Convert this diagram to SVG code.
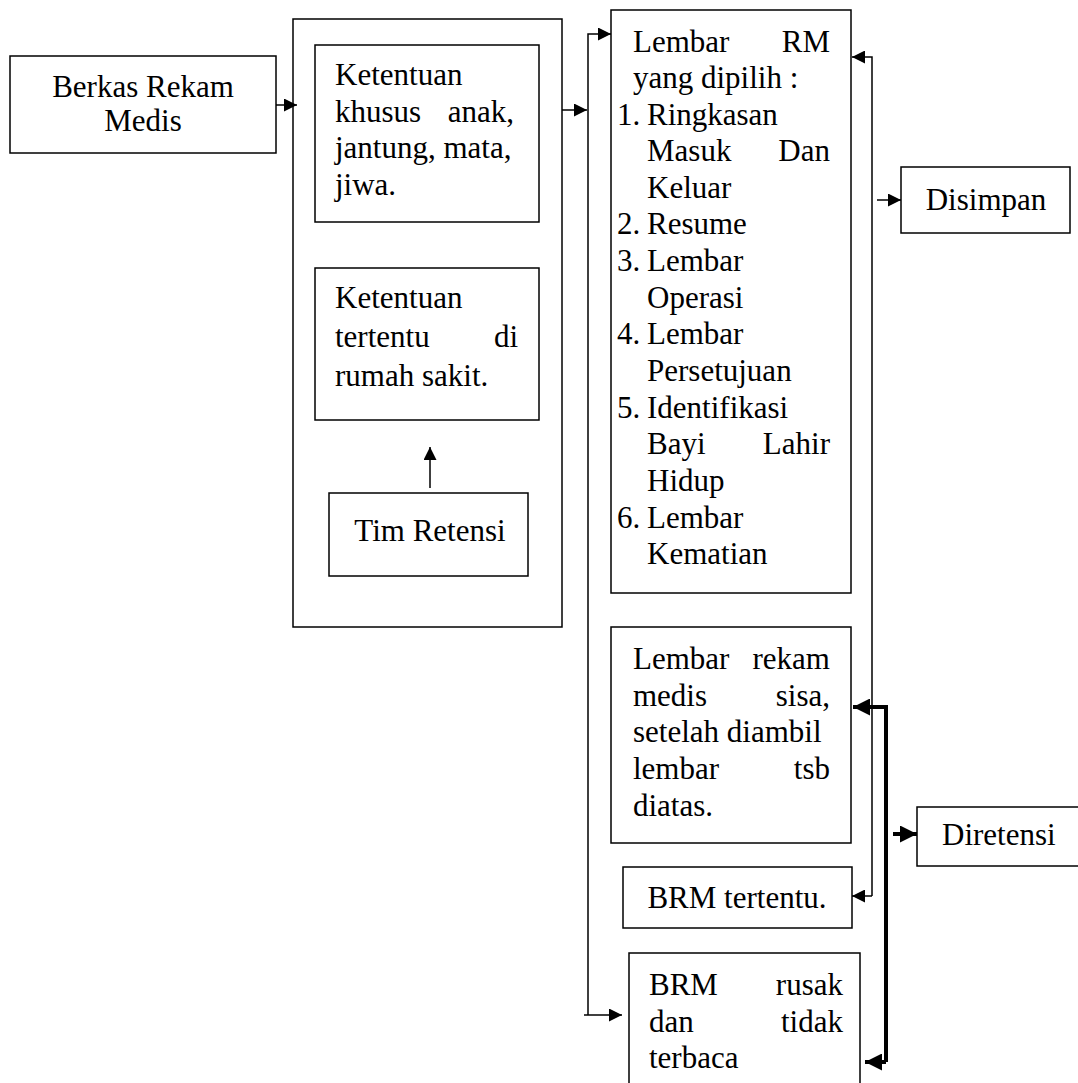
<svg xmlns="http://www.w3.org/2000/svg" width="1078" height="1083" viewBox="0 0 1078 1083">
<style>
.box{fill:#fff;stroke:#000;stroke-width:1.5}
.t{font-family:"Liberation Serif","Times New Roman",serif;font-size:31px;fill:#000}
.e{text-anchor:end}
.m{text-anchor:middle}
.ln{fill:none;stroke:#000;stroke-width:1.5}
.th{fill:none;stroke:#000;stroke-width:4}
</style>
<defs>
<marker id="a" viewBox="0 0 10 10" refX="10" refY="5" markerUnits="userSpaceOnUse" markerWidth="13" markerHeight="13" orient="auto"><path d="M0 0L10 5L0 10Z" fill="#000"/></marker>
<marker id="b" viewBox="0 0 10 10" refX="10" refY="5" markerUnits="userSpaceOnUse" markerWidth="19" markerHeight="17" orient="auto"><path d="M0 0L10 5L0 10Z" fill="#000"/></marker>
</defs>
<rect width="1078" height="1083" fill="#fff"/>
<g id="n-berkas"><rect class="box" x="10" y="56" width="266" height="97"/><text class="t m" x="143" y="97">Berkas Rekam</text><text class="t m" x="143" y="131">Medis</text></g>
<g id="n-container"><rect class="box" x="293" y="19" width="269" height="608"/></g>
<g id="n-khusus"><rect class="box" x="315" y="45" width="224" height="177"/><text class="t" x="335" y="85">Ketentuan</text><text class="t" x="335" y="122">khusus</text><text class="t e" x="514" y="122">anak,</text><text class="t" x="335" y="158">jantung, mata,</text><text class="t" x="335" y="195">jiwa.</text></g>
<g id="n-tertentu"><rect class="box" x="315" y="268" width="224" height="152"/><text class="t" x="335" y="308">Ketentuan</text><text class="t" x="335" y="347">tertentu</text><text class="t e" x="518" y="347">di</text><text class="t" x="335" y="386">rumah sakit.</text></g>
<g id="n-tim"><rect class="box" x="329" y="493" width="199" height="83"/><text class="t m" x="430" y="541">Tim Retensi</text></g>
<g id="n-lembar"><rect class="box" x="611" y="10" width="240" height="583"/>
<text class="t" x="633" y="52">Lembar</text><text class="t e" x="830" y="52">RM</text>
<text class="t" x="633" y="88">yang dipilih :</text>
<text class="t" x="617" y="125">1.</text><text class="t" x="647" y="125">Ringkasan</text>
<text class="t" x="647" y="161">Masuk</text><text class="t e" x="830" y="161">Dan</text>
<text class="t" x="647" y="198">Keluar</text>
<text class="t" x="617" y="234">2.</text><text class="t" x="647" y="234">Resume</text>
<text class="t" x="617" y="271">3.</text><text class="t" x="647" y="271">Lembar</text>
<text class="t" x="647" y="308">Operasi</text>
<text class="t" x="617" y="344">4.</text><text class="t" x="647" y="344">Lembar</text>
<text class="t" x="647" y="381">Persetujuan</text>
<text class="t" x="617" y="418">5.</text><text class="t" x="647" y="418">Identifikasi</text>
<text class="t" x="647" y="454">Bayi</text><text class="t e" x="830" y="454">Lahir</text>
<text class="t" x="647" y="491">Hidup</text>
<text class="t" x="617" y="528">6.</text><text class="t" x="647" y="528">Lembar</text>
<text class="t" x="647" y="564">Kematian</text></g>
<g id="n-disimpan"><rect class="box" x="901" y="167" width="169" height="66"/><text class="t m" x="986" y="210">Disimpan</text></g>
<g id="n-sisa"><rect class="box" x="611" y="627" width="240" height="216"/>
<text class="t" x="633" y="669">Lembar</text><text class="t e" x="830" y="669">rekam</text>
<text class="t" x="633" y="706">medis</text><text class="t e" x="830" y="706">sisa,</text>
<text class="t" x="633" y="742">setelah diambil</text>
<text class="t" x="633" y="779">lembar</text><text class="t e" x="830" y="779">tsb</text>
<text class="t" x="633" y="816">diatas.</text></g>
<g id="n-brmtertentu"><rect class="box" x="623" y="867" width="229" height="61"/><text class="t m" x="737" y="908">BRM tertentu.</text></g>
<g id="n-rusak"><rect class="box" x="629" y="953" width="231" height="140"/>
<text class="t" x="649" y="995">BRM</text><text class="t e" x="843" y="995">rusak</text>
<text class="t" x="649" y="1032">dan</text><text class="t e" x="843" y="1032">tidak</text>
<text class="t" x="649" y="1068">terbaca</text></g>
<g id="n-diretensi"><rect class="box" x="917" y="807" width="170" height="59"/><text class="t" x="942" y="845">Diretensi</text></g>
<g id="connectors">
<path class="ln" d="M276 105H297" marker-end="url(#a)"/>
<path class="ln" d="M562 110H587" marker-end="url(#a)"/>
<path class="ln" d="M588 1015V34H611" marker-end="url(#a)"/>
<path class="ln" d="M584 1015H622" marker-end="url(#a)"/>
<path class="ln" d="M430 488V447" marker-end="url(#a)"/>
<path class="ln" d="M872 896V57H852" marker-end="url(#a)"/>
<path class="ln" d="M872 896H852" marker-end="url(#a)"/>
<path class="ln" d="M877 200H901" marker-end="url(#a)"/>
<path class="th" d="M886 1062V707H853" marker-end="url(#b)"/>
<path class="th" d="M886 1062H865" marker-end="url(#b)"/>
<path class="th" d="M893 834H917" marker-end="url(#b)"/>
</g>
</svg>
